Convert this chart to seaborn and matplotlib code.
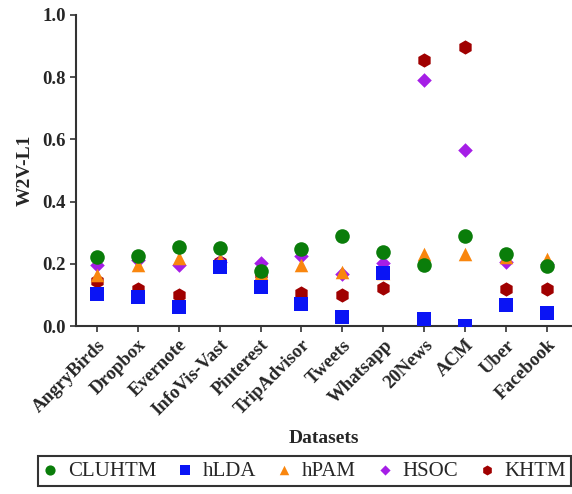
import pandas as pd
import seaborn as sns
import matplotlib.pyplot as plt

datasets = ["AngryBirds", "Dropbox", "Evernote", "InfoVis-Vast", "Pinterest", "TripAdvisor",
            "Tweets", "Whatsapp", "20News", "ACM", "Uber", "Facebook"]
cluhtm = [0.221, 0.224, 0.255, 0.251, 0.178, 0.249, 0.288, 0.238, 0.196, 0.288, 0.232, 0.194]
hlda = [0.103, 0.093, 0.062, 0.191, 0.125, 0.071, 0.029, 0.170, 0.022, 0.000, 0.068, 0.041]
hpam = [0.165, 0.197, 0.220, 0.213, 0.172, 0.197, 0.175, 0.170, 0.231, 0.232, 0.222, 0.215]
hsoc = [0.197, 0.213, 0.197, 0.205, 0.204, 0.224, 0.168, 0.204, 0.789, 0.566, 0.207, 0.200]
khtm = [0.145, 0.118, 0.100, 0.207, 0.168, 0.107, 0.099, 0.123, 0.856, 0.898, 0.118, 0.118]

models = ["CLUHTM", "hLDA", "hPAM", "HSOC", "KHTM"]
values = {"CLUHTM": cluhtm, "hLDA": hlda, "hPAM": hpam, "HSOC": hsoc, "KHTM": khtm}
colors = {"CLUHTM": "#0a7d0a", "hLDA": "#0a14f5", "hPAM": "#f9860e", "HSOC": "#a51ee6", "KHTM": "#a00000"}
markers = {"CLUHTM": "o", "hLDA": "s", "hPAM": "^", "HSOC": "D", "KHTM": "h"}
sizes = {"CLUHTM": 110, "hLDA": 95, "hPAM": 95, "HSOC": 55, "KHTM": 105}

rows = []
for m in models:
    for i, d in enumerate(datasets):
        rows.append({"x": i, "Dataset": d, "Model": m, "W2V-L1": values[m][i]})
df = pd.DataFrame(rows)

sns.set_style("ticks")
plt.rcParams["font.family"] = ["Liberation Serif", "DejaVu Serif"]

fig = plt.figure(figsize=(5.72, 4.94), dpi=100)
ax = fig.add_axes([0.133, 0.34, 0.867, 0.63])

# draw order so overlaps look like the original
for m in ["KHTM", "HSOC", "hPAM", "CLUHTM", "hLDA"]:
    sns.scatterplot(data=df[df["Model"] == m], x="x", y="W2V-L1", color=colors[m],
                    marker=markers[m], s=sizes[m], linewidth=0, ax=ax, label=m, zorder=3)

ax.set_xlim(-0.5, 11.6)
ax.set_ylim(0, 1.0)
ax.set_yticks([0.0, 0.2, 0.4, 0.6, 0.8, 1.0])
ax.set_yticklabels(["0.0", "0.2", "0.4", "0.6", "0.8", "1.0"], fontsize=13.5, fontweight="bold")
ax.set_xticks(range(len(datasets)))
ax.set_xticklabels(datasets, rotation=45, ha="right", rotation_mode="anchor",
                   fontsize=13.5, fontweight="bold")
ax.set_xlabel("Datasets", fontsize=14, fontweight="bold", labelpad=8)
ax.set_ylabel("W2V-L1", fontsize=14, fontweight="bold", labelpad=6)
ax.tick_params(axis="both", direction="out", length=4, width=1.2, color="#333333")
for s in ["left", "bottom"]:
    ax.spines[s].set_linewidth(1.5)
    ax.spines[s].set_color("#333333")
sns.despine(ax=ax)

handles, labels = ax.get_legend_handles_labels()
order = [labels.index(m) for m in models]
ax.get_legend().remove()
leg = fig.legend([handles[i] for i in order], models, loc="lower center",
                 bbox_to_anchor=(0.532, -0.005), ncol=5, frameon=True, fancybox=False,
                 edgecolor="black", fontsize=15, handlelength=0.7, handletextpad=0.5,
                 columnspacing=1.02, borderpad=0.25, markerscale=0.7)
leg.get_frame().set_linewidth(1.5)

fig.savefig("out.png", dpi=100)
